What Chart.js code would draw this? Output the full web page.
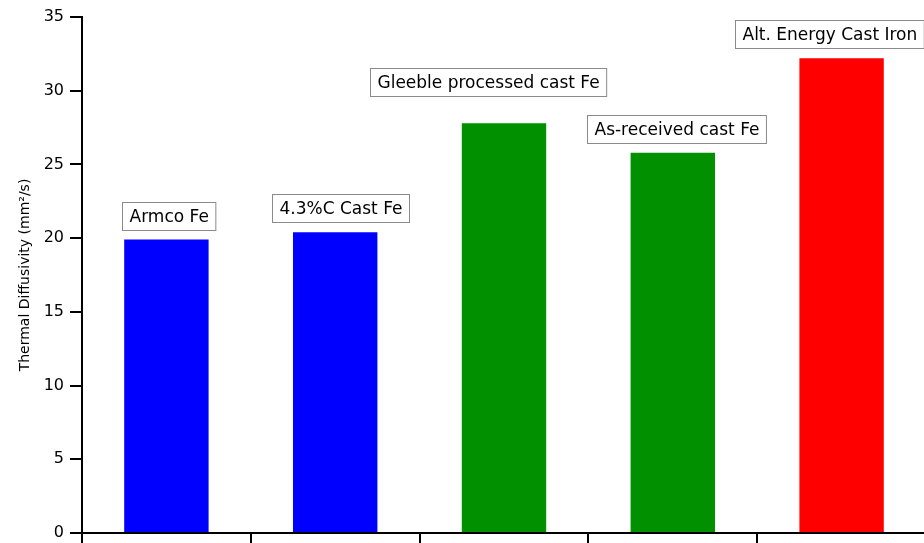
<!DOCTYPE html>
<html>
<head>
<meta charset="utf-8">
<script src="https://cdn.jsdelivr.net/npm/chart.js@4"></script>
<style>
  html, body { margin: 0; padding: 0; background: #fff; overflow: hidden; }
  #wrap { position: relative; width: 926px; height: 543px; }
</style>
</head>
<body>
<div id="wrap"><canvas id="chart"></canvas></div>
<script>
// Samples and their measured thermal diffusivity (mm^2/s)
const categories = ['Armco Fe', '4.3%C Cast Fe', 'Gleeble processed cast Fe', 'As-received cast Fe', 'Alt. Energy Cast Iron'];
const diffusivity = [19.9, 20.4, 27.8, 25.8, 32.2];
const barColors = ['#0000ff', '#0000ff', '#009000', '#009000', '#ff0000'];
const yTickValues = [0, 5, 10, 15, 20, 25, 30, 35];
const axisTitle = 'Thermal Diffusivity (mm²/s)';

// Boxed sample names: [horizontal shift of box centre, gap above bar] in px
const calloutShift = [[2, 10], [5, 10], [-16, 27], [4, 10], [-12, 10]];

const FONT = '"DejaVu Sans", "Liberation Sans", sans-serif';

const calloutPlugin = {
  id: 'callouts',
  afterDatasetsDraw(chart) {
    const ctx = chart.ctx;
    const meta = chart.getDatasetMeta(0);
    ctx.save();
    ctx.font = '17px ' + FONT;
    ctx.textBaseline = 'middle';
    ctx.textAlign = 'center';
    meta.data.forEach((bar, i) => {
      const text = categories[i];
      const w = ctx.measureText(text).width + 14;
      const h = 28;
      const cx = bar.x + calloutShift[i][0];
      const bottom = bar.y - calloutShift[i][1];
      const left = Math.round(cx - w / 2) + 0.5;
      const top = Math.round(bottom - h) + 0.5;
      ctx.fillStyle = '#ffffff';
      ctx.fillRect(left, top, w, h);
      ctx.strokeStyle = '#8a8a8a';
      ctx.lineWidth = 1;
      ctx.strokeRect(left, top, w, h);
      ctx.fillStyle = '#000000';
      ctx.fillText(text, left + w / 2, top + h / 2 + 1);
    });
    ctx.restore();
  }
};

new Chart(document.getElementById('chart'), {
  type: 'bar',
  data: {
    labels: categories,
    datasets: [{
      data: diffusivity,
      backgroundColor: barColors,
      borderWidth: 0,
      barPercentage: 0.5,
      categoryPercentage: 1.0
    }]
  },
  options: {
    responsive: true,
    maintainAspectRatio: false,
    animation: false,
    events: [],
    layout: { padding: { top: 17, right: 0, bottom: 0, left: 0 } },
    plugins: {
      legend: { display: false },
      tooltip: { enabled: false },
      title: { display: false }
    },
    scales: {
      x: {
        type: 'category',
        offset: true,
        grid: {
          offset: true,
          drawOnChartArea: false,
          drawTicks: true,
          tickLength: 10,
          color: '#000',
          lineWidth: 2
        },
        border: { display: true, color: '#000', width: 2 },
        ticks: { display: false },
        afterFit(scale) { scale.height = 10; scale.paddingLeft = 0; scale.paddingRight = 0; }
      },
      y: {
        min: 0,
        max: 35,
        afterBuildTicks(scale) { scale.ticks = yTickValues.map(v => ({ value: v })); },
        grid: {
          drawOnChartArea: false,
          drawTicks: true,
          tickLength: 12,
          color: '#000',
          lineWidth: 2
        },
        border: { display: true, color: '#000', width: 2 },
        ticks: {
          color: '#000',
          padding: 6,
          font: { family: FONT, size: 16 }
        },
        title: {
          display: true,
          text: axisTitle,
          color: '#000',
          font: { family: FONT, size: 14 },
          padding: { top: 17, bottom: 0 }
        },
        afterFit(scale) {
          scale.width = 82;
          scale.paddingTop = 0;
          scale.paddingBottom = 0;
        }
      }
    }
  },
  plugins: [calloutPlugin]
});
</script>
</body>
</html>
